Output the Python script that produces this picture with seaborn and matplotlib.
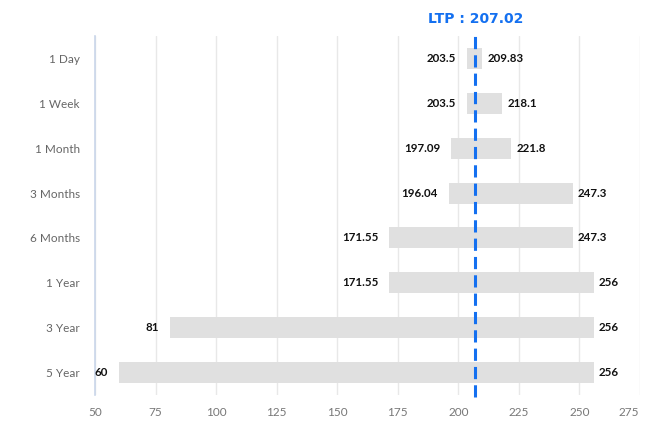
import matplotlib
matplotlib.use("Agg")
import matplotlib.pyplot as plt
import matplotlib.transforms as mtransforms
import seaborn as sns
import pandas as pd

# Price range for each look-back period
periods = ["1 Day", "1 Week", "1 Month", "3 Months", "6 Months", "1 Year", "3 Year", "5 Year"]
low_vals = [203.5, 203.5, 197.09, 196.04, 171.55, 171.55, 81, 60]
high_vals = [209.83, 218.1, 221.8, 247.3, 247.3, 256, 256, 256]
ltp = 207.02
x_ticks = [50, 75, 100, 125, 150, 175, 200, 225, 250, 275]

df = pd.DataFrame({"period": periods, "low": low_vals, "high": high_vals})
df["span"] = df["high"] - df["low"]

sns.set_theme(style="white")
plt.rcParams["font.family"] = ["Lato", "DejaVu Sans"]

fig = plt.figure(figsize=(6.46, 4.25), dpi=100)
ax = fig.add_axes([95 / 646, 1 - 395 / 425, 545 / 646, 359 / 425])

sns.barplot(data=df, x="span", y="period", order=periods, color="#e0e0e0",
            saturation=1, width=0.47, orient="y", ax=ax, zorder=2)

# each bar starts at the period's low
for patch, lo in zip(ax.patches, df["low"]):
    patch.set_x(lo)
    patch.set_edgecolor("none")

ax.set_xlim(50, 275)
ax.set_xticks(x_ticks)
ax.set_xticklabels([str(t) for t in x_ticks])
ax.set_xlabel("")
ax.set_ylabel("")

ax.grid(axis="x", color="#e8e8e8", linewidth=1, zorder=0)
ax.set_axisbelow(True)
for side in ["top", "right", "bottom"]:
    ax.spines[side].set_visible(False)
ax.spines["left"].set_color("#c9d6ea")
ax.spines["left"].set_linewidth(1.2)

ax.tick_params(axis="y", length=0, pad=11, labelsize=8.5, labelcolor="#666666")
ax.tick_params(axis="x", length=0, pad=9, labelsize=8.5, labelcolor="#777777")

# nudge the last x tick label inside the canvas
last = ax.get_xticklabels()[-1]
last.set_transform(last.get_transform() +
                   mtransforms.ScaledTranslation(-11 / 100, 0, fig.dpi_scale_trans))

# low / high value labels on either side of each bar
off_left = mtransforms.offset_copy(ax.transData, fig=fig, x=-11, y=0, units="dots")
off_right = mtransforms.offset_copy(ax.transData, fig=fig, x=5, y=0, units="dots")
for i, (lo, hi) in enumerate(zip(low_vals, high_vals)):
    ax.text(lo, i, f"{lo:g}", transform=off_left, ha="right", va="center",
            fontsize=8.3, fontweight="bold", color="#111111")
    ax.text(hi, i, f"{hi:g}", transform=off_right, ha="left", va="center",
            fontsize=8.3, fontweight="bold", color="#111111")

# last traded price marker
blue = "#1470f0"
ax.axvline(ltp, color=blue, linewidth=2.2, linestyle=(0, (4, 2)), zorder=3,
           ymin=-0.005, ymax=1.0, clip_on=False)
ax.text(ltp, 1 + 17 / 359, f"LTP : {ltp:.2f}", transform=ax.get_xaxis_transform(),
        ha="center", va="center", fontsize=10, fontweight="bold", color=blue,
        family="DejaVu Sans")

fig.savefig("out.png", dpi=100)
